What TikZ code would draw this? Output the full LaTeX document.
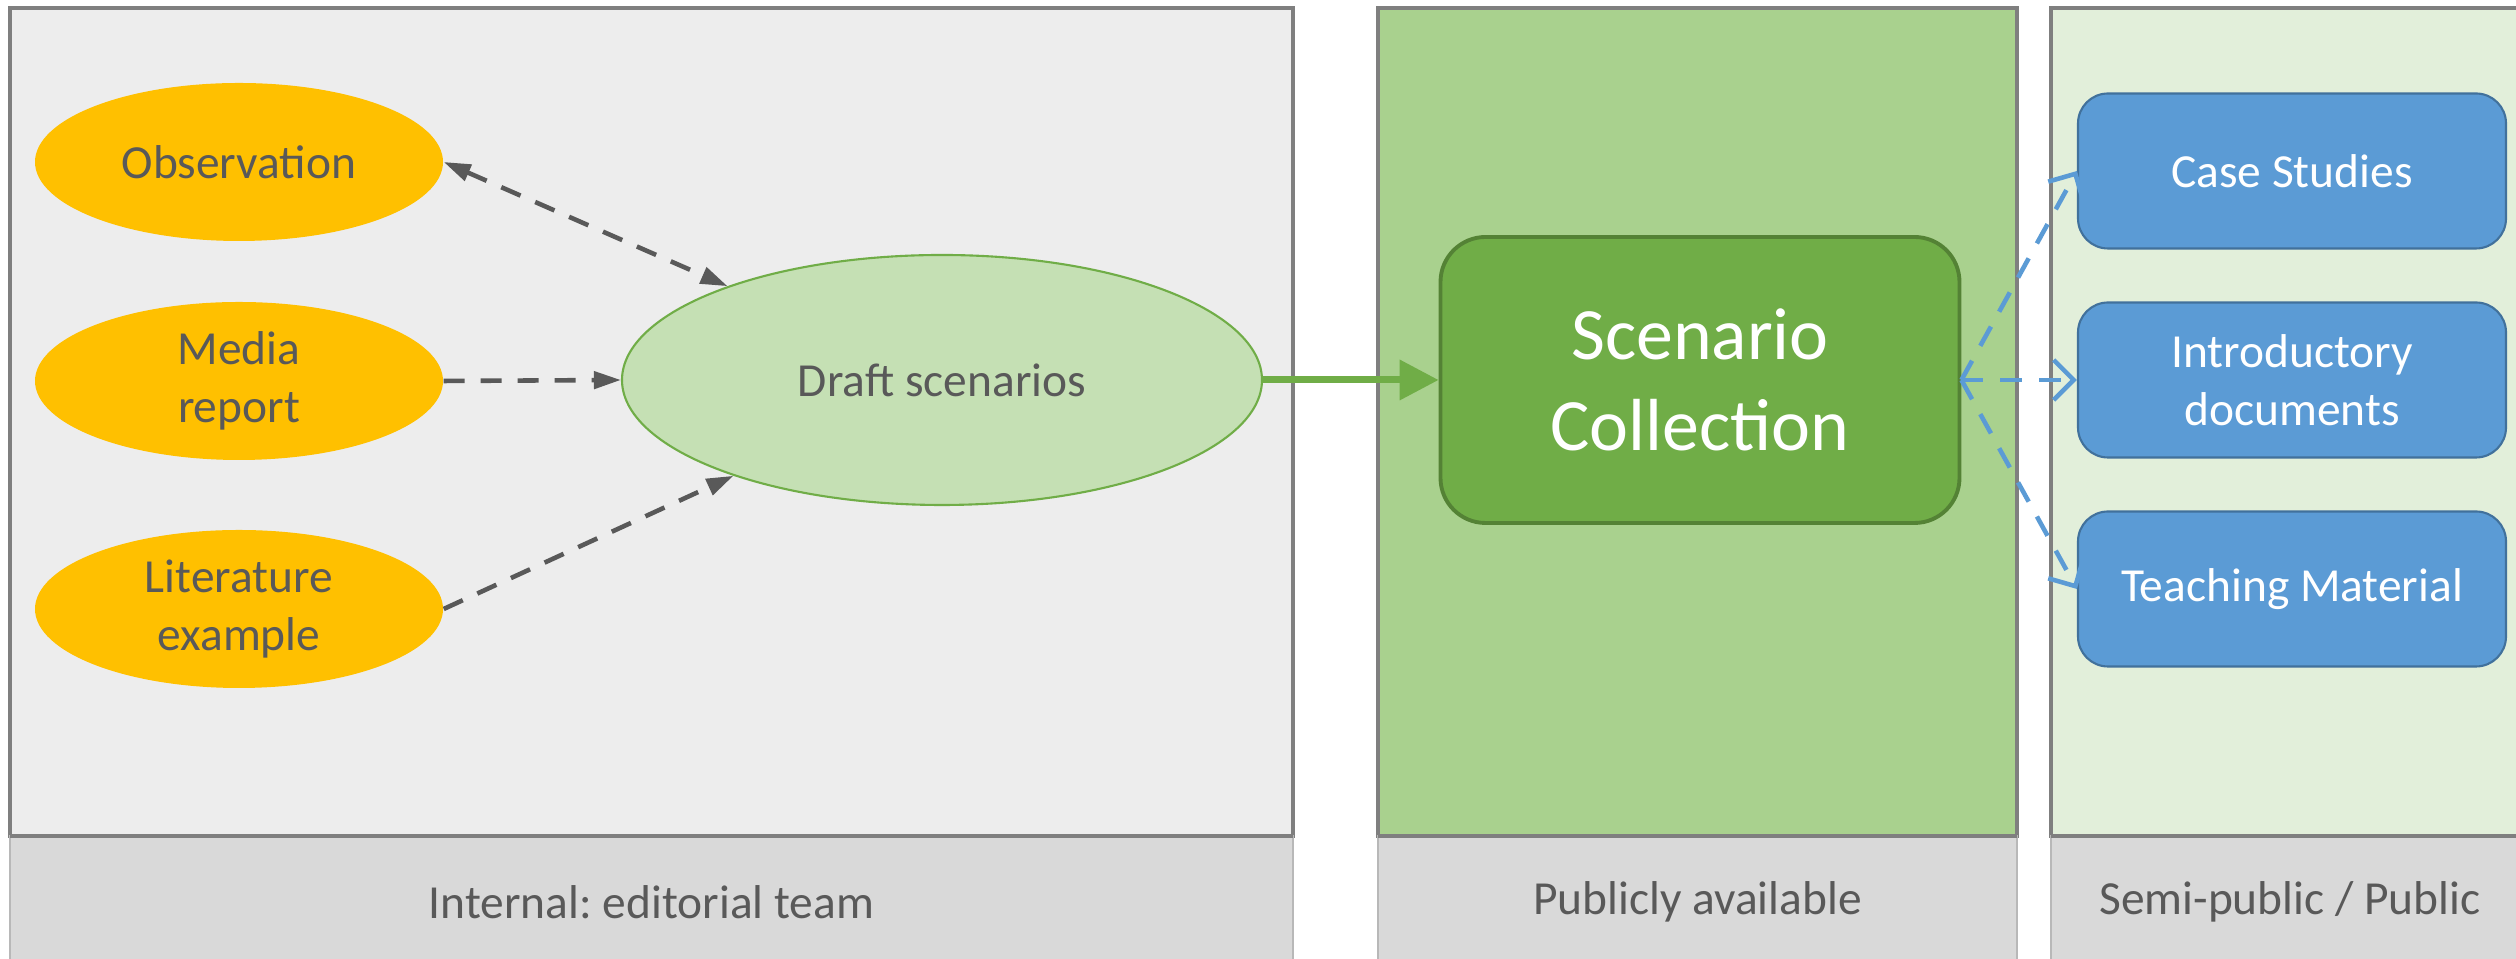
\documentclass[tikz,border=0pt]{standalone}
\usepackage{fontspec}
\setmainfont{Carlito}
\usetikzlibrary{arrows.meta,shapes.geometric}
\definecolor{panelgray}{HTML}{EDEDED}
\definecolor{bandgray}{HTML}{D9D9D9}
\definecolor{framegray}{HTML}{7F7F7F}
\definecolor{textgray}{HTML}{595959}
\definecolor{pubgreen}{HTML}{A9D18E}
\definecolor{semigreen}{HTML}{E2EFDA}
\definecolor{draftgreen}{HTML}{C5E0B4}
\definecolor{midgreen}{HTML}{70AD47}
\definecolor{darkgreen}{HTML}{548235}
\definecolor{amber}{HTML}{FFC000}
\definecolor{bluefill}{HTML}{5B9BD5}
\definecolor{blueline}{HTML}{41719C}
\frenchspacing
\begin{document}
\begin{tikzpicture}[
  panel/.style = {draw=framegray, line width=1.1pt},
  band/.style = {fill=bandgray, draw=bandgray!85!black, line width=0.3pt},
  source/.style = {ellipse, fill=amber, text=textgray, align=center,
    minimum width=4.08cm, minimum height=1.58cm, inner sep=0pt, font=\fontsize{13.5}{16.5}\selectfont},
  draft/.style = {ellipse, fill=draftgreen, draw=midgreen, line width=0.6pt, text=textgray,
    minimum width=6.4cm, minimum height=2.5cm, font=\fontsize{13.5}{16.5}\selectfont},
  store/.style = {rectangle, rounded corners=0.45cm, fill=midgreen, draw=darkgreen, line width=1.1pt,
    text=white, align=center, minimum width=5.19cm, minimum height=2.86cm,
    font=\fontsize{21}{26}\selectfont},
  output/.style = {rectangle, rounded corners=0.3cm, fill=bluefill, draw=blueline, line width=0.6pt,
    text=white, align=center, minimum width=4.28cm, minimum height=1.55cm,
    font=\fontsize{13.5}{16.5}\selectfont},
  caption/.style = {text=textgray, font=\fontsize{13.5}{16.5}\selectfont},
  link/.style = {draw=textgray, line width=1.3pt, dash pattern=on 0.21cm off 0.16cm,
    -{Triangle[length=0.27cm,width=0.17cm]}},
  flow/.style = {draw=midgreen, line width=2pt, -{Triangle[length=0.39cm,width=0.39cm]}},
  share/.style = {draw=bluefill, line width=1.3pt, dash pattern=on 0.22cm off 0.17cm,
    -{Straight Barb[length=0.2cm,width=0.4cm]}}
  ]
  \useasboundingbox (0,0) rectangle (25.16,9.59);
  \fill[white] (0,0) rectangle (25.16,9.59);

  \draw[panel, fill=panelgray] (0.10,1.23) rectangle (12.93,9.51);
  \draw[panel, fill=pubgreen] (13.78,1.23) rectangle (20.17,9.51);
  \draw[panel, fill=semigreen] (20.51,1.23) rectangle (25.40,9.51);
  \draw[band] (0.10,-0.1) rectangle (12.93,1.23);
  \draw[band] (13.78,-0.1) rectangle (20.17,1.23);
  \draw[band] (20.51,-0.1) rectangle (25.40,1.23);
  \draw[framegray, line width=1.1pt] (0.10,1.23) -- (12.93,1.23)
    (13.78,1.23) -- (20.17,1.23) (20.51,1.23) -- (25.40,1.23);

  \node[caption] (internal) at (6.515,0.57) {Internal: editorial team};
  \node[caption] (public) at (16.975,0.57) {Publicly available};
  \node[caption] (semi) at (22.90,0.57) {Semi-public / Public};

  \node[source] (obs) at (2.39,7.97) {Observation};
  \node[source] (media) at (2.39,5.78) {Media\\report};
  \node[source] (lit) at (2.39,3.50) {Literature\\example};
  \node[draft] (drafts) at (9.42,5.79) {Draft scenarios};
  \node[store] (coll) at (17.00,5.79) {Scenario\\Collection};
  \node[output] (case) at (22.92,7.88) {Case Studies};
  \node[output] (intro) at (22.92,5.79) {Introductory\\documents};
  \node[output] (teach) at (22.92,3.70) {Teaching Material};

  \draw[link, {Triangle[length=0.27cm,width=0.17cm]}-{Triangle[length=0.27cm,width=0.17cm]}] (obs.east) -- (drafts);
  \draw[link] (media.east) -- (drafts.west);
  \draw[link] (lit.east) -- (drafts);
  \draw[flow] (drafts.east) -- (coll.west);
  \draw[share] (coll.east) -- (case.west);
  \draw[share] (coll.east) -- (intro.west);
  \draw[share] (coll.east) -- (teach.west);
\end{tikzpicture}
\end{document}
